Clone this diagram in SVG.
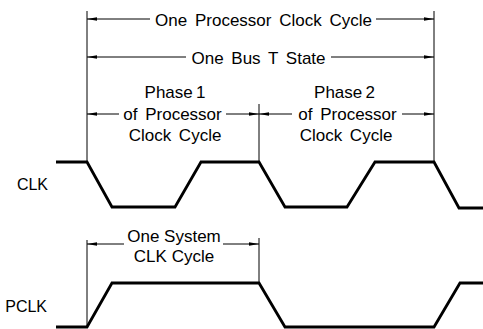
<svg xmlns="http://www.w3.org/2000/svg" width="483" height="329" viewBox="0 0 483 329">
<style>
.t{font-family:"Liberation Sans",Arial,sans-serif;font-size:17px;fill:#000;text-anchor:middle;word-spacing:3px}
.t0{font-family:"Liberation Sans",Arial,sans-serif;font-size:17px;fill:#000;text-anchor:middle}
.sig{font-family:"Liberation Sans",Arial,sans-serif;font-size:16px;fill:#000;text-anchor:end}
.dim{stroke:#000;stroke-width:1;fill:none;marker-end:url(#ah)}
.ext{stroke:#000;stroke-width:1;fill:none}
.wave{stroke:#000;stroke-width:2.8;fill:none;stroke-linejoin:miter}
</style>
<defs>
<marker id="ah" viewBox="0 0 10 4" refX="10" refY="2" markerWidth="10" markerHeight="4" orient="auto" markerUnits="userSpaceOnUse">
<path d="M0,0.2 L10,2 L0,3.8 z" fill="#000"/>
</marker>
</defs>
<g id="extension-lines">
<line class="ext" x1="87" y1="11" x2="87" y2="162"/>
<line class="ext" x1="87" y1="240" x2="87" y2="327"/>
<line class="ext" x1="259" y1="104" x2="259" y2="162"/>
<line class="ext" x1="259" y1="238" x2="259" y2="283"/>
<line class="ext" x1="434" y1="11" x2="434" y2="162"/>
</g>
<g id="connectors">
<line class="dim" x1="150" y1="19" x2="87" y2="19"/>
<line class="dim" x1="376" y1="19" x2="434" y2="19"/>
<line class="dim" x1="186" y1="57" x2="87" y2="57"/>
<line class="dim" x1="331" y1="57" x2="434" y2="57"/>
<line class="dim" x1="119" y1="114" x2="87" y2="114"/>
<line class="dim" x1="226" y1="114" x2="259" y2="114"/>
<line class="dim" x1="292" y1="114" x2="259" y2="114"/>
<line class="dim" x1="402" y1="114" x2="434" y2="114"/>
<line class="dim" x1="124" y1="244" x2="87" y2="244"/>
<line class="dim" x1="223" y1="244" x2="259" y2="244"/>
</g>
<g id="processor-clock-cycle">
<text class="t" x="263.5" y="26">One Processor Clock Cycle</text>
</g>
<g id="bus-t-state">
<text class="t" x="258.5" y="64">One Bus T State</text>
</g>
<g id="phase1">
<text class="t0" x="175" y="98" style="word-spacing:-1.5px">Phase 1</text>
<text class="t" x="172.5" y="120">of Processor</text>
<text class="t" x="175" y="141">Clock Cycle</text>
</g>
<g id="phase2">
<text class="t0" x="344.5" y="98" style="word-spacing:-1.5px">Phase 2</text>
<text class="t" x="347.5" y="120">of Processor</text>
<text class="t" x="346" y="141">Clock Cycle</text>
</g>
<g id="system-clk-cycle">
<text class="t0" x="174" y="242">One System</text>
<text class="t0" x="174" y="262">CLK Cycle</text>
</g>
<g id="clk">
<text class="sig" x="48" y="190">CLK</text>
<polyline class="wave" points="56,162 87,162 112,207 175,207 201,162 259,162 285,207 347,207 375,162 434,162 459,208 483,208"/>
</g>
<g id="pclk">
<text class="sig" x="47" y="312">PCLK</text>
<polyline class="wave" points="56,327 87,327 112,283 259,283 285,327 434,327 460,283 483,283"/>
</g>
</svg>
